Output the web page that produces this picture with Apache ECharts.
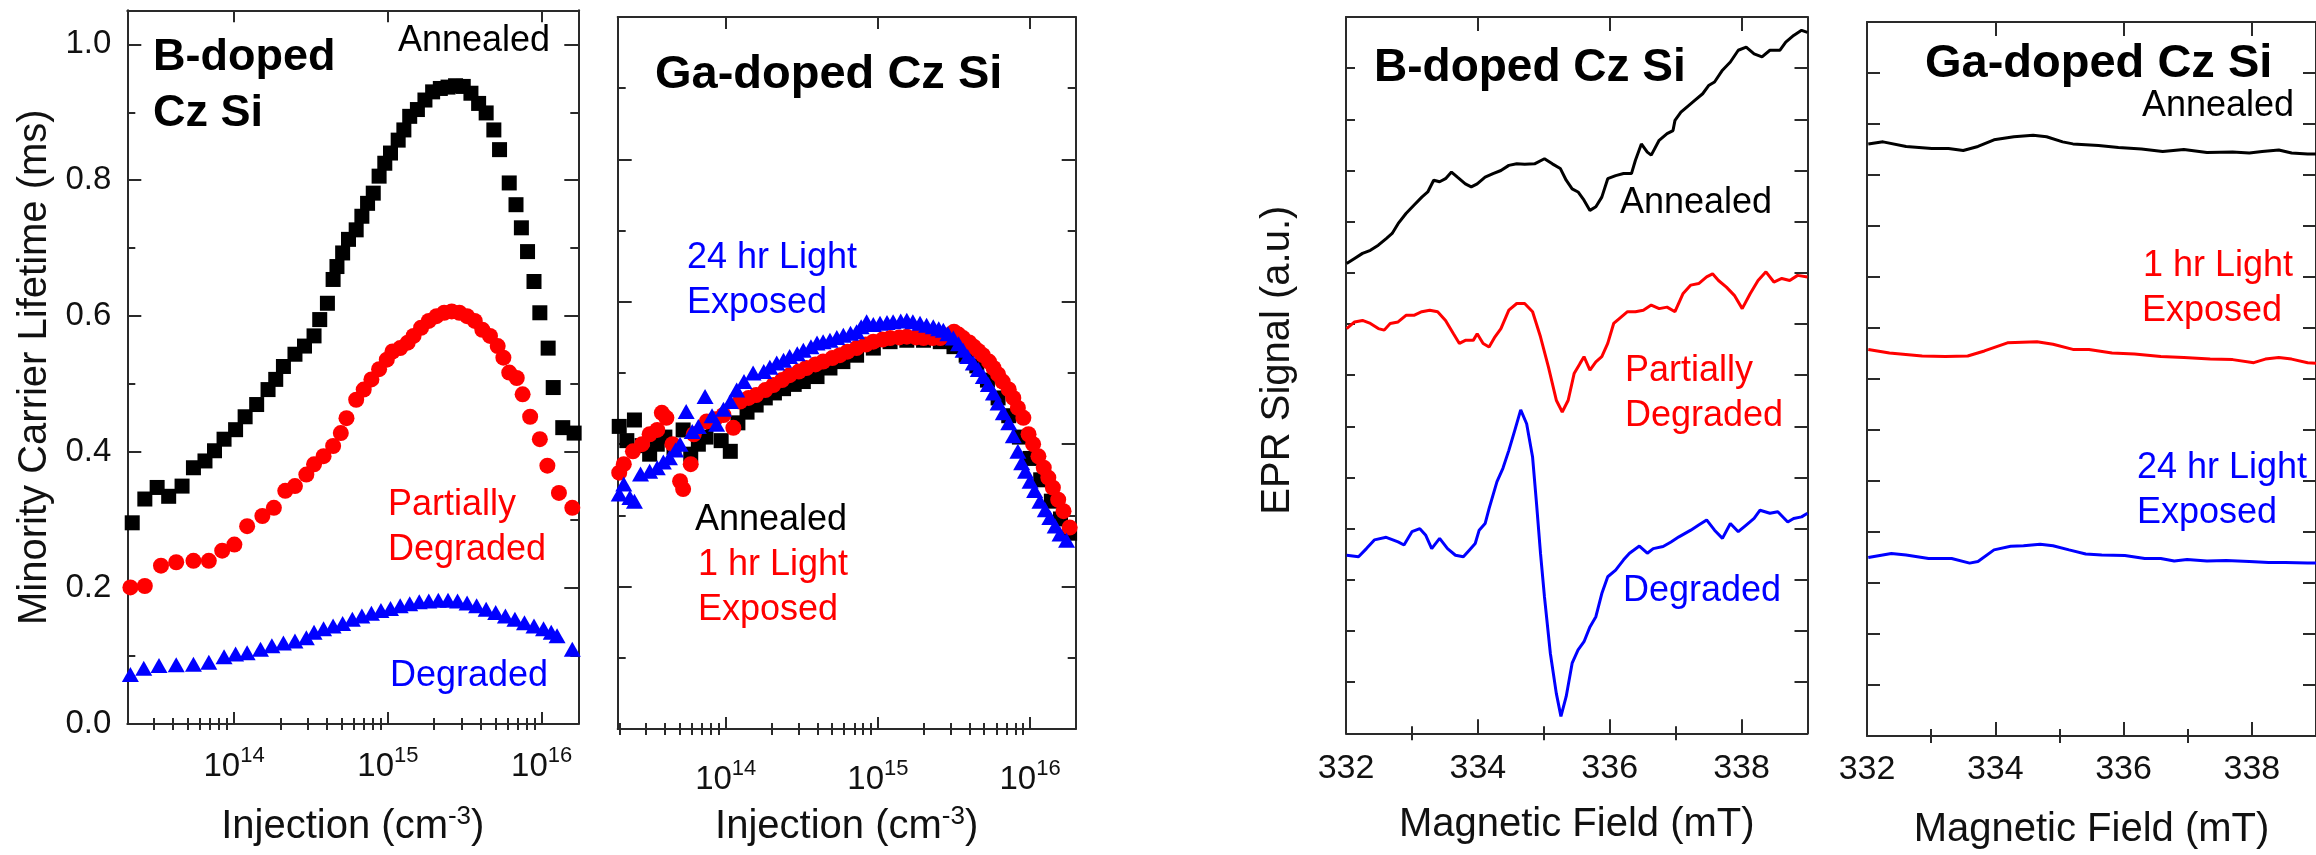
<!DOCTYPE html>
<html><head><meta charset="utf-8">
<script src="https://cdn.jsdelivr.net/npm/echarts@6.0.0/dist/echarts.min.js"></script>
<style>html,body{margin:0;padding:0;background:#fff}#c{width:2316px;height:855px}</style>
</head><body><div id="c"></div><script>
// ---------------- DATA ----------------
// x of panels 1-2: log10(injection / cm^-3); y: minority carrier lifetime (ms)
const injTickExponents = [14, 15, 16];
const lifetimeTicks = [0, 0.2, 0.4, 0.6, 0.8, 1.0];
const fieldTicks = [332, 334, 336, 338];

const bAnnealed = [[13.338,0.296],[13.420,0.331],[13.500,0.348],[13.575,0.335],[13.662,0.350],[13.736,0.377],[13.811,0.387],[13.873,0.402],[13.935,0.419],[14.010,0.433],[14.072,0.452],[14.147,0.470],[14.221,0.492],[14.271,0.507],[14.321,0.526],[14.396,0.544],[14.458,0.556],[14.520,0.571],[14.557,0.595],[14.607,0.619],[14.644,0.654],[14.669,0.673],[14.706,0.693],[14.744,0.713],[14.794,0.727],[14.831,0.747],[14.868,0.766],[14.905,0.781],[14.943,0.806],[14.980,0.825],[15.017,0.840],[15.067,0.859],[15.104,0.874],[15.142,0.894],[15.192,0.904],[15.241,0.918],[15.291,0.930],[15.341,0.935],[15.391,0.937],[15.440,0.939],[15.490,0.938],[15.540,0.928],[15.590,0.913],[15.639,0.899],[15.689,0.874],[15.726,0.845],[15.789,0.796],[15.833,0.764],[15.868,0.730],[15.908,0.695],[15.950,0.651],[15.988,0.605],[16.042,0.553],[16.075,0.495],[16.137,0.436],[16.211,0.428]];
const bPartial = [[13.326,0.201],[13.420,0.203],[13.525,0.233],[13.624,0.238],[13.736,0.240],[13.836,0.240],[13.923,0.255],[14.002,0.264],[14.085,0.291],[14.184,0.306],[14.259,0.318],[14.333,0.343],[14.396,0.350],[14.470,0.367],[14.520,0.382],[14.582,0.394],[14.644,0.409],[14.694,0.428],[14.731,0.450],[14.794,0.477],[14.843,0.492],[14.893,0.507],[14.943,0.522],[14.993,0.536],[15.030,0.548],[15.080,0.553],[15.129,0.561],[15.167,0.571],[15.216,0.583],[15.266,0.593],[15.316,0.600],[15.366,0.605],[15.415,0.607],[15.465,0.605],[15.515,0.600],[15.565,0.593],[15.614,0.580],[15.664,0.571],[15.714,0.556],[15.751,0.539],[15.789,0.517],[15.838,0.509],[15.876,0.485],[15.925,0.452],[15.988,0.419],[16.037,0.380],[16.112,0.340],[16.199,0.318]];
const bDegraded = [[13.326,0.073],[13.413,0.082],[13.512,0.086],[13.624,0.087],[13.736,0.088],[13.836,0.091],[13.935,0.099],[14.010,0.103],[14.085,0.105],[14.172,0.110],[14.246,0.115],[14.321,0.119],[14.396,0.122],[14.470,0.127],[14.520,0.135],[14.582,0.140],[14.644,0.144],[14.706,0.148],[14.769,0.154],[14.831,0.159],[14.893,0.163],[14.955,0.167],[15.017,0.170],[15.080,0.174],[15.142,0.177],[15.204,0.180],[15.266,0.181],[15.328,0.182],[15.391,0.182],[15.453,0.181],[15.515,0.178],[15.577,0.174],[15.639,0.169],[15.701,0.164],[15.764,0.159],[15.826,0.154],[15.888,0.149],[15.950,0.144],[16.012,0.140],[16.062,0.135],[16.100,0.130],[16.199,0.110]];

const gaAnnealed = [[13.30,0.425],[13.35,0.405],[13.40,0.434],[13.45,0.398],[13.50,0.386],[13.55,0.400],[13.60,0.410],[13.66,0.395],[13.72,0.420],[13.77,0.386],[13.82,0.400],[13.87,0.410],[13.92,0.430],[13.97,0.405],[14.03,0.390],[14.08,0.430],[14.14,0.445],[14.20,0.455],[14.26,0.465],[14.32,0.472],[14.38,0.478],[14.45,0.484],[14.51,0.488],[14.60,0.495],[14.685,0.507],[14.77,0.516],[14.86,0.525],[14.97,0.535],[15.08,0.544],[15.19,0.546],[15.30,0.546],[15.41,0.544],[15.50,0.537],[15.58,0.525],[15.65,0.510],[15.72,0.490],[15.79,0.465],[15.86,0.440],[15.93,0.410],[16.00,0.380],[16.07,0.350],[16.14,0.320],[16.20,0.295],[16.26,0.275]];
const gaLight1h = [[13.30,0.360],[13.33,0.372],[13.39,0.390],[13.45,0.400],[13.50,0.414],[13.55,0.420],[13.58,0.444],[13.61,0.437],[13.65,0.400],[13.70,0.348],[13.72,0.337],[13.77,0.372],[13.79,0.414],[13.875,0.432],[13.93,0.435],[13.985,0.441],[14.05,0.423],[14.094,0.460],[14.15,0.465],[14.20,0.469],[14.26,0.476],[14.313,0.483],[14.37,0.490],[14.42,0.497],[14.48,0.502],[14.53,0.507],[14.59,0.512],[14.64,0.516],[14.70,0.521],[14.75,0.525],[14.80,0.530],[14.86,0.535],[14.92,0.540],[14.97,0.544],[15.03,0.547],[15.08,0.549],[15.14,0.550],[15.19,0.551],[15.25,0.550],[15.30,0.549],[15.36,0.549],[15.41,0.549],[15.46,0.553],[15.50,0.558],[15.53,0.554],[15.56,0.549],[15.60,0.543],[15.63,0.537],[15.66,0.531],[15.69,0.525],[15.73,0.516],[15.76,0.507],[15.79,0.498],[15.82,0.488],[15.86,0.477],[15.89,0.465],[15.92,0.451],[15.956,0.437],[15.99,0.414],[16.02,0.400],[16.055,0.383],[16.09,0.367],[16.12,0.353],[16.15,0.339],[16.185,0.322],[16.22,0.306],[16.26,0.283]];
const gaLight24h = [[13.30,0.330],[13.33,0.344],[13.37,0.325],[13.40,0.320],[13.44,0.358],[13.50,0.362],[13.55,0.367],[13.59,0.375],[13.63,0.381],[13.67,0.392],[13.70,0.400],[13.74,0.446],[13.78,0.418],[13.82,0.425],[13.864,0.467],[13.91,0.440],[13.94,0.428],[13.985,0.449],[14.03,0.460],[14.072,0.476],[14.12,0.488],[14.18,0.500],[14.25,0.502],[14.29,0.508],[14.335,0.514],[14.38,0.518],[14.42,0.523],[14.47,0.527],[14.51,0.532],[14.56,0.537],[14.60,0.542],[14.64,0.544],[14.685,0.546],[14.73,0.550],[14.773,0.553],[14.82,0.556],[14.86,0.558],[14.89,0.565],[14.926,0.572],[14.97,0.568],[15.014,0.570],[15.06,0.571],[15.10,0.572],[15.15,0.573],[15.19,0.574],[15.23,0.572],[15.277,0.570],[15.32,0.567],[15.364,0.565],[15.40,0.562],[15.43,0.560],[15.46,0.555],[15.496,0.549],[15.53,0.541],[15.56,0.532],[15.59,0.523],[15.627,0.514],[15.66,0.505],[15.693,0.495],[15.726,0.484],[15.759,0.472],[15.79,0.458],[15.824,0.444],[15.86,0.430],[15.89,0.412],[15.92,0.390],[15.945,0.374],[15.97,0.362],[16.00,0.348],[16.03,0.335],[16.065,0.320],[16.10,0.308],[16.13,0.297],[16.165,0.285],[16.197,0.274],[16.24,0.265]];

// EPR: [magnetic field mT, signal a.u. (arbitrary offset units)]
const eprBAnnealed = [[332.01,9.18],[332.13,9.28],[332.25,9.38],[332.37,9.44],[332.49,9.54],[332.61,9.67],[332.70,9.77],[332.79,9.96],[332.91,10.16],[333.03,10.32],[333.15,10.48],[333.24,10.58],[333.33,10.81],[333.42,10.78],[333.51,10.84],[333.60,10.97],[333.69,10.87],[333.81,10.74],[333.90,10.68],[333.99,10.74],[334.11,10.87],[334.23,10.94],[334.35,11.00],[334.47,11.10],[334.59,11.13],[334.71,11.12],[334.86,11.13],[335.01,11.23],[335.13,11.13],[335.25,11.04],[335.34,10.81],[335.43,10.64],[335.52,10.58],[335.61,10.42],[335.70,10.22],[335.79,10.29],[335.88,10.48],[335.97,10.84],[336.09,10.90],[336.21,10.94],[336.33,10.94],[336.39,11.20],[336.48,11.52],[336.57,11.36],[336.63,11.30],[336.75,11.59],[336.87,11.72],[336.96,11.78],[336.99,11.98],[337.08,12.14],[337.17,12.24],[337.29,12.37],[337.41,12.50],[337.50,12.66],[337.59,12.73],[337.71,12.96],[337.83,13.12],[337.95,13.35],[338.07,13.41],[338.19,13.28],[338.31,13.22],[338.43,13.35],[338.58,13.35],[338.67,13.51],[338.79,13.64],[338.91,13.74],[339.00,13.70]];
const eprBPartial = [[332.01,7.91],[332.13,8.04],[332.25,8.07],[332.37,8.01],[332.49,7.91],[332.58,7.88],[332.67,8.01],[332.79,8.04],[332.91,8.17],[333.03,8.17],[333.15,8.24],[333.27,8.27],[333.39,8.24],[333.51,8.07],[333.63,7.81],[333.72,7.62],[333.81,7.68],[333.93,7.68],[333.99,7.81],[334.08,7.62],[334.17,7.55],[334.26,7.75],[334.35,7.91],[334.47,8.27],[334.59,8.40],[334.71,8.40],[334.83,8.24],[334.95,7.75],[335.07,7.16],[335.19,6.51],[335.28,6.28],[335.37,6.51],[335.46,7.03],[335.55,7.23],[335.61,7.36],[335.70,7.10],[335.79,7.26],[335.88,7.36],[335.97,7.62],[336.06,8.01],[336.15,8.11],[336.27,8.24],[336.39,8.24],[336.51,8.27],[336.63,8.37],[336.75,8.30],[336.87,8.33],[336.99,8.24],[337.11,8.59],[337.23,8.76],[337.35,8.79],[337.47,8.92],[337.56,8.98],[337.65,8.85],[337.77,8.72],[337.89,8.56],[338.01,8.30],[338.13,8.59],[338.25,8.85],[338.37,9.02],[338.49,8.82],[338.61,8.89],[338.73,8.85],[338.85,8.95],[339.00,8.92]];
const eprBDegraded = [[332.01,3.48],[332.19,3.45],[332.31,3.61],[332.43,3.78],[332.61,3.83],[332.79,3.74],[332.88,3.68],[333.00,3.94],[333.12,4.00],[333.21,3.87],[333.30,3.61],[333.42,3.81],[333.54,3.61],[333.66,3.48],[333.78,3.45],[333.87,3.58],[333.96,3.71],[334.02,3.97],[334.11,4.10],[334.17,4.39],[334.29,4.92],[334.38,5.18],[334.47,5.53],[334.56,5.92],[334.65,6.32],[334.74,6.05],[334.83,5.40],[334.89,4.49],[334.95,3.52],[335.01,2.67],[335.10,1.56],[335.19,0.78],[335.26,0.33],[335.34,0.72],[335.43,1.37],[335.52,1.63],[335.61,1.79],[335.70,2.08],[335.79,2.28],[335.88,2.73],[335.97,3.06],[336.09,3.19],[336.21,3.39],[336.30,3.52],[336.45,3.66],[336.57,3.52],[336.66,3.61],[336.81,3.65],[336.93,3.74],[337.05,3.84],[337.23,3.97],[337.35,4.07],[337.47,4.17],[337.59,3.97],[337.71,3.81],[337.83,4.10],[337.95,3.94],[338.07,4.07],[338.19,4.20],[338.28,4.36],[338.43,4.30],[338.55,4.33],[338.70,4.13],[338.79,4.20],[338.91,4.23],[339.00,4.30]];
const eprGaAnnealed = [[332.02,11.61],[332.25,11.65],[332.61,11.56],[333.01,11.52],[333.27,11.52],[333.50,11.48],[333.73,11.56],[333.98,11.69],[334.29,11.75],[334.59,11.78],[334.80,11.75],[335.05,11.65],[335.21,11.61],[335.61,11.58],[335.92,11.54],[336.28,11.51],[336.61,11.46],[336.94,11.50],[337.30,11.44],[337.70,11.45],[337.96,11.43],[338.16,11.46],[338.42,11.49],[338.62,11.43],[338.87,11.41],[339.00,11.41]];
const eprGaLight1h = [[332.02,7.58],[332.35,7.51],[332.86,7.45],[333.22,7.44],[333.57,7.45],[333.83,7.55],[334.19,7.71],[334.65,7.73],[334.90,7.68],[335.21,7.58],[335.46,7.58],[335.82,7.51],[336.17,7.49],[336.58,7.44],[336.94,7.42],[337.35,7.39],[337.70,7.38],[338.03,7.32],[338.21,7.39],[338.42,7.42],[338.62,7.39],[338.87,7.32],[339.00,7.31]];
const eprGaLight24h = [[332.02,3.50],[332.38,3.58],[332.61,3.55],[332.96,3.48],[333.32,3.48],[333.60,3.39],[333.73,3.42],[333.98,3.65],[334.24,3.72],[334.44,3.73],[334.70,3.76],[334.90,3.73],[335.15,3.65],[335.41,3.57],[335.66,3.55],[336.02,3.54],[336.33,3.48],[336.58,3.48],[336.79,3.43],[336.99,3.46],[337.30,3.43],[337.60,3.44],[337.96,3.42],[338.26,3.40],[338.52,3.40],[338.87,3.39],[339.00,3.39]];

// ---------------- LAYOUT / STYLE ----------------
const FONT = "'Liberation Sans', Arial, sans-serif";
const AXC = '#2a2a2a';
const TXT = '#111';
const BLACK = '#000000', RED = '#ff0000', BLUE = '#0000ff';

const injMinor = [];
for (let e = 13; e <= 16; e++) for (let k = 2; k <= 9; k++) injMinor.push(e + Math.log10(k));
const lifeMinor = [0.1, 0.3, 0.5, 0.7, 0.9];
const fieldMinor = [333, 335, 337];

const grids = [
  {left: 127.3, top: 10.3, width: 451, height: 714.7},
  {left: 617.7, top: 17, width: 458, height: 715.7},
  {left: 1346, top: 17, width: 461.5, height: 716.3},
  {left: 1867, top: 22, width: 457.7, height: 716.3}
];

function tickStyle(len, vals) {
  const t = {show: true, inside: true, length: len, lineStyle: {color: AXC, width: 2}};
  if (vals) t.customValues = vals;
  return t;
}
const lineStyle = {show: true, onZero: false, lineStyle: {color: AXC, width: 2}};
const noLine = {show: false};

const supRich = {
  b: {fontSize: 33, fontFamily: FONT, color: TXT, lineHeight: 38, verticalAlign: 'bottom'},
  s: {fontSize: 22, fontFamily: FONT, color: TXT, lineHeight: 22, verticalAlign: 'top'}
};
const nameRich = {s: {fontSize: 26, fontFamily: FONT, color: TXT, lineHeight: 26, verticalAlign: 'top'}};

const xAxis = [], yAxis = [];
function addX(cfg) { xAxis.push(cfg); return xAxis.length - 1; }
function addY(cfg) { yAxis.push(cfg); return yAxis.length - 1; }

// injection x axes (panels 0,1)
const injRange = [[13.306, 16.238], [13.290, 16.300]];
const injGap = [80, 75];
const injMargin = [21, 29];
const xMain = [], yMain = [];
[0, 1].forEach(g => {
  const [mn, mx] = injRange[g];
  const minors = injMinor.filter(v => v > mn + 0.005 && v < mx - 0.005);
  const base = {gridIndex: g, type: 'value', min: mn, max: mx, splitLine: {show: false}, axisLabel: {show: false}};
  xMain[g] = addX(Object.assign({}, base, {
    position: 'bottom', axisLine: lineStyle, axisTick: tickStyle(12, injTickExponents),
    axisLabel: {show: true, customValues: injTickExponents, margin: injMargin[g],
      formatter: v => '{b|10}{s|' + Math.round(v) + '}', rich: supRich},
    name: 'Injection (cm{s|-3})', nameLocation: 'middle', nameGap: injGap[g],
    nameTextStyle: {fontSize: 40, fontFamily: FONT, color: TXT, lineHeight: 46, rich: nameRich}
  }));
  addX(Object.assign({}, base, {position: 'bottom', axisLine: noLine, axisTick: tickStyle(6, minors)}));
  addX(Object.assign({}, base, {position: 'top', axisLine: lineStyle, axisTick: tickStyle(12, injTickExponents)}));
  addX(Object.assign({}, base, {position: 'top', axisLine: noLine, axisTick: tickStyle(6, minors)}));
});
// field x axes (panels 2,3)
const fieldGap = [72, 74];
const fieldMargin = [18, 17];
[2, 3].forEach((g, i) => {
  const base = {gridIndex: g, type: 'value', min: 332, max: 339, splitLine: {show: false}, axisLabel: {show: false}};
  xMain[g] = addX(Object.assign({}, base, {
    position: 'bottom', axisLine: lineStyle, axisTick: tickStyle(14, fieldTicks),
    axisLabel: {show: true, customValues: fieldTicks, margin: fieldMargin[i], fontSize: 34, fontFamily: FONT, color: TXT},
    name: 'Magnetic Field (mT)', nameLocation: 'middle', nameGap: fieldGap[i],
    nameTextStyle: {fontSize: 40, fontFamily: FONT, color: TXT}
  }));
  addX(Object.assign({}, base, {position: 'bottom', axisLine: noLine, axisTick: tickStyle(7, fieldMinor)}));
  addX(Object.assign({}, base, {position: 'top', axisLine: lineStyle, axisTick: tickStyle(14, fieldTicks)}));
  addX(Object.assign({}, base, {position: 'top', axisLine: noLine, axisTick: tickStyle(7, fieldMinor)}));
});
// lifetime y axes (panels 0,1)
const lifeMax = [1.05, 1.0];
[0, 1].forEach(g => {
  const base = {gridIndex: g, type: 'value', min: 0, max: lifeMax[g], splitLine: {show: false}, axisLabel: {show: false}};
  const main = Object.assign({}, base, {position: 'left', axisLine: lineStyle, axisTick: tickStyle(14, lifetimeTicks)});
  if (g === 0) {
    main.axisLabel = {show: true, customValues: lifetimeTicks, margin: 16, fontSize: 33, fontFamily: FONT, color: TXT,
      formatter: v => v.toFixed(1)};
    main.name = 'Minority Carrier Lifetime (ms)';
    main.nameLocation = 'middle';
    main.nameGap = 72;
    main.nameTextStyle = {fontSize: 40, fontFamily: FONT, color: TXT};
  }
  yMain[g] = addY(main);
  addY(Object.assign({}, base, {position: 'left', axisLine: noLine, axisTick: tickStyle(8, lifeMinor)}));
  addY(Object.assign({}, base, {position: 'right', axisLine: lineStyle, axisTick: tickStyle(14, lifetimeTicks)}));
  addY(Object.assign({}, base, {position: 'right', axisLine: noLine, axisTick: tickStyle(8, lifeMinor)}));
});
// EPR y axes (panels 2,3)
[2, 3].forEach(g => {
  const base = {gridIndex: g, type: 'value', min: 0, max: 14, interval: 1, splitLine: {show: false}, axisLabel: {show: false}};
  const main = Object.assign({}, base, {position: 'left', axisLine: lineStyle, axisTick: tickStyle(g === 2 ? 9 : 13)});
  if (g === 2) {
    main.name = 'EPR Signal (a.u.)';
    main.nameLocation = 'middle';
    main.nameGap = 48;
    main.nameTextStyle = {fontSize: 40, fontFamily: FONT, color: TXT, padding: [0, 0, 0, 30]};
  }
  yMain[g] = addY(main);
  addY(Object.assign({}, base, {position: 'right', axisLine: lineStyle, axisTick: tickStyle(13)}));
});

// ---------------- SERIES ----------------
function scatter(g, data, symbol, size, color, z) {
  return {type: 'scatter', xAxisIndex: xMain[g], yAxisIndex: yMain[g], data: data, symbol: symbol,
    symbolSize: size, itemStyle: {color: color, opacity: 1}, z: z, clip: true, silent: true};
}
function line(g, data, color) {
  return {type: 'line', xAxisIndex: xMain[g], yAxisIndex: yMain[g], data: data, showSymbol: false,
    lineStyle: {color: color, width: 3}, clip: true, silent: true, z: 3};
}
const series = [
  scatter(0, bAnnealed, 'rect', 15, BLACK, 2),
  scatter(0, bPartial, 'circle', 16, RED, 3),
  scatter(0, bDegraded, 'triangle', [17, 15], BLUE, 4),
  scatter(1, gaAnnealed, 'rect', 15, BLACK, 2),
  scatter(1, gaLight1h, 'circle', 16, RED, 3),
  scatter(1, gaLight24h, 'triangle', [17, 15], BLUE, 4),
  line(2, eprBAnnealed, BLACK),
  line(2, eprBPartial, RED),
  line(2, eprBDegraded, BLUE),
  line(3, eprGaAnnealed, BLACK),
  line(3, eprGaLight1h, RED),
  line(3, eprGaLight24h, BLUE)
];

// ---------------- ANNOTATIONS ----------------
// [text, x, baseline y, font size, bold, color]
const notes = [
  ['B-doped', 153, 72, 45, true, BLACK],
  ['Cz Si', 153, 128, 45, true, BLACK],
  ['Annealed', 398, 53, 36, false, BLACK],
  ['Partially', 388, 517, 36, false, RED],
  ['Degraded', 388, 562, 36, false, RED],
  ['Degraded', 390, 688, 36, false, BLUE],
  ['Ga-doped Cz Si', 655, 90, 47, true, BLACK],
  ['24 hr Light', 687, 270, 36, false, BLUE],
  ['Exposed', 687, 315, 36, false, BLUE],
  ['Annealed', 695, 532, 36, false, BLACK],
  ['1 hr Light', 698, 577, 36, false, RED],
  ['Exposed', 698, 622, 36, false, RED],
  ['B-doped Cz Si', 1374, 83, 46, true, BLACK],
  ['Annealed', 1620, 215, 36, false, BLACK],
  ['Partially', 1625, 383, 36, false, RED],
  ['Degraded', 1625, 428, 36, false, RED],
  ['Degraded', 1623, 603, 36, false, BLUE],
  ['Ga-doped Cz Si', 1925, 79, 47, true, BLACK],
  ['Annealed', 2142, 118, 36, false, BLACK],
  ['1 hr Light', 2143, 278, 36, false, RED],
  ['Exposed', 2142, 323, 36, false, RED],
  ['24 hr Light', 2137, 480, 36, false, BLUE],
  ['Exposed', 2137, 525, 36, false, BLUE]
];
const graphic = notes.map(n => ({
  type: 'text', x: n[1], y: n[2] - 0.32 * n[3], z: 100, silent: true,
  style: {text: n[0], fill: n[5], fontSize: n[3], fontFamily: FONT, fontWeight: n[4] ? 'bold' : 'normal',
    align: 'left', verticalAlign: 'middle'}
}));

const chart = echarts.init(document.getElementById('c'), null, {renderer: 'canvas'});
chart.setOption({
  animation: false,
  backgroundColor: '#ffffff',
  grid: grids,
  xAxis: xAxis,
  yAxis: yAxis,
  series: series,
  graphic: graphic
});
</script></body></html>
